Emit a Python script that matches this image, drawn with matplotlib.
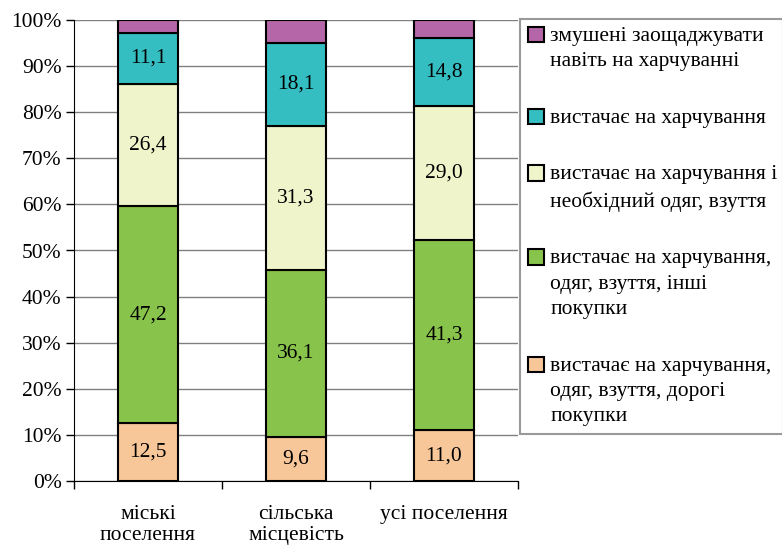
import matplotlib.pyplot as plt
import numpy as np

plt.rcParams['font.family'] = ['Liberation Serif', 'DejaVu Serif']

categories = ['міські\nпоселення', 'сільська\nмісцевість', 'усі поселення']

# series from bottom to top
dorogi = [12.5, 9.6, 11.0]
inshi = [47.2, 36.1, 41.3]
odyag = [26.4, 31.3, 29.0]
harch = [11.1, 18.1, 14.8]
zmusheni = [2.8, 4.9, 3.9]

series = [dorogi, inshi, odyag, harch, zmusheni]
labels = ['вистачає на харчування,\nодяг, взуття, дорогі\nпокупки',
          'вистачає на харчування,\nодяг, взуття, інші\nпокупки',
          'вистачає на харчування і\nнеобхідний одяг, взуття',
          'вистачає на харчування',
          'змушені заощаджувати\nнавіть на харчуванні']
colors = ['#F7C79A', '#88C34C', '#EFF4CB', '#35BEC2', '#B566A8']
show_values = [True, True, True, True, False]

fs = 15.5

fig = plt.figure(figsize=(7.82, 5.48), dpi=100)
ax = fig.add_axes([74 / 782, 1 - 481 / 548, (518 - 74) / 782, (481 - 20) / 548])

x = np.arange(len(categories))
bottom = np.zeros(len(categories))
handles = []
for vals, lab, col, show in zip(series, labels, colors, show_values):
    bars = ax.bar(x, vals, width=0.4, bottom=bottom, color=col,
                  edgecolor='black', linewidth=1.5, label=lab, zorder=3)
    handles.append(bars)
    if show:
        for xi, b, v in zip(x, bottom, vals):
            ax.text(xi, b + v / 2, f'{v:.1f}'.replace('.', ','),
                    ha='center', va='center', fontsize=fs, zorder=4)
    bottom += np.array(vals)

ax.set_xlim(-0.5, 2.5)
ax.set_ylim(0, 100)
ax.set_yticks(np.arange(0, 101, 10))
ax.set_yticklabels([f'{v}%' for v in range(0, 101, 10)], fontsize=fs)
ax.yaxis.grid(True, color='#808080', linewidth=1, zorder=0)
ax.set_axisbelow(True)

ax.set_xticks(x)
ax.set_xticklabels(categories, fontsize=fs, linespacing=1.2)
ax.tick_params(axis='x', length=0, pad=17)
ax.set_xticks([-0.5, 0.5, 1.5, 2.5], minor=True)
ax.tick_params(axis='x', which='minor', length=6, direction='out', width=1)
ax.tick_params(axis='y', length=6, direction='out', width=1, pad=3)

for s in ['top', 'right']:
    ax.spines[s].set_visible(False)

leg = fig.legend(handles[::-1], labels[::-1], loc='upper left',
                 bbox_to_anchor=(520 / 782, 1 - 19 / 548, 263 / 782, 0),
                 mode='expand',
                 fontsize=fs, frameon=True, fancybox=False,
                 edgecolor='#808080', handlelength=0.75, handleheight=0.75,
                 handletextpad=0.3, labelspacing=1.75, borderpad=0.35,
                 borderaxespad=0)
leg.get_frame().set_linewidth(1.5)
for t in leg.get_texts():
    t.set_linespacing(1.45)
for col in leg._legend_handle_box.get_children():
    for row in col.get_children():
        row.align = 'top'

fig.savefig('out.png', dpi=100)
